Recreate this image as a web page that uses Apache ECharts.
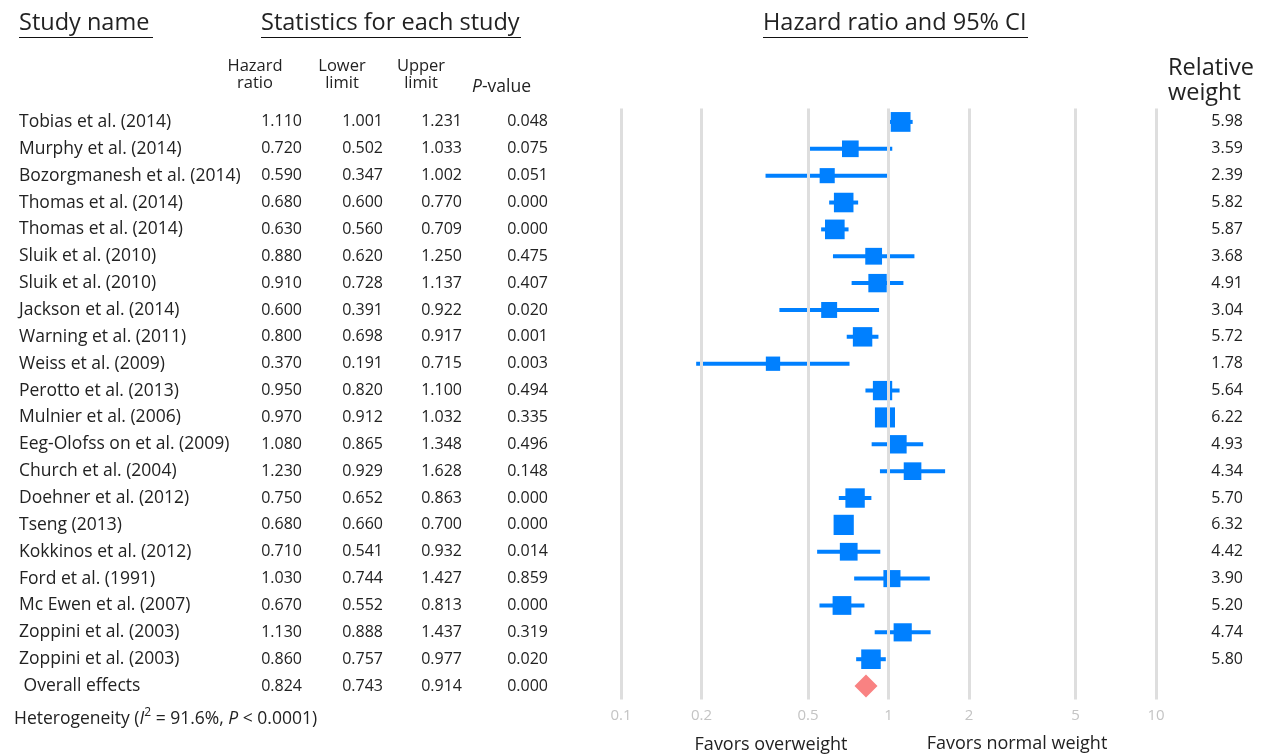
<!DOCTYPE html>
<html><head><meta charset="utf-8">
<script src="https://cdn.jsdelivr.net/npm/echarts@6/dist/echarts.min.js"></script>
<style>html,body{margin:0;padding:0;background:#fff}#c{width:1264px;height:754px}</style>
</head><body><div id="c"></div>
<script>
// Study table
const studies = [
  'Tobias et al. (2014)', 'Murphy et al. (2014)', 'Bozorgmanesh et al. (2014)',
  'Thomas et al. (2014)', 'Thomas et al. (2014)', 'Sluik et al. (2010)',
  'Sluik et al. (2010)', 'Jackson et al. (2014)', 'Warning et al. (2011)',
  'Weiss et al. (2009)', 'Perotto et al. (2013)', 'Mulnier et al. (2006)',
  'Eeg-Olofss on et al. (2009)', 'Church et al. (2004)', 'Doehner et al. (2012)',
  'Tseng (2013)', 'Kokkinos et al. (2012)', 'Ford et al. (1991)',
  'Mc Ewen et al. (2007)', 'Zoppini et al. (2003)', 'Zoppini et al. (2003)'
];
const hazardRatio = [1.110, 0.720, 0.590, 0.680, 0.630, 0.880, 0.910, 0.600, 0.800, 0.370, 0.950,
  0.970, 1.080, 1.230, 0.750, 0.680, 0.710, 1.030, 0.670, 1.130, 0.860];
const lowerLimit = [1.001, 0.502, 0.347, 0.600, 0.560, 0.620, 0.728, 0.391, 0.698, 0.191, 0.820,
  0.912, 0.865, 0.929, 0.652, 0.660, 0.541, 0.744, 0.552, 0.888, 0.757];
const upperLimit = [1.231, 1.033, 1.002, 0.770, 0.709, 1.250, 1.137, 0.922, 0.917, 0.715, 1.100,
  1.032, 1.348, 1.628, 0.863, 0.700, 0.932, 1.427, 0.813, 1.437, 0.977];
const pValue = [0.048, 0.075, 0.051, 0.000, 0.000, 0.475, 0.407, 0.020, 0.001, 0.003, 0.494,
  0.335, 0.496, 0.148, 0.000, 0.000, 0.014, 0.859, 0.000, 0.319, 0.020];
const relativeWeight = [5.98, 3.59, 2.39, 5.82, 5.87, 3.68, 4.91, 3.04, 5.72, 1.78, 5.64,
  6.22, 4.93, 4.34, 5.70, 6.32, 4.42, 3.90, 5.20, 4.74, 5.80];

// Pooled estimate
const overallName = ' Overall effects';
const overallHR = 0.824;
const overallLower = 0.743;
const overallUpper = 0.914;
const overallP = 0.000;

const xTicks = [0.1, 0.2, 0.5, 1, 2, 5, 10];

const nRows = studies.length + 1;
const rows = Array.from({length: nRows}, (_, i) => String(i));
const names = studies.concat([overallName]);
const hrCol = hazardRatio.concat([overallHR]);
const loCol = lowerLimit.concat([overallLower]);
const upCol = upperLimit.concat([overallUpper]);
const pCol = pValue.concat([overallP]);

const FONT = '"Open Sans", "Noto Sans", sans-serif';
const TXT = '#222';

function tableAxis(position, margin, align, size, fmt) {
  return {
    type: 'category', data: rows, inverse: true, gridIndex: 0, position: position,
    axisLine: {show: false}, axisTick: {show: false}, splitLine: {show: false},
    axisLabel: {
      margin: margin, align: align, color: TXT, fontFamily: FONT, fontSize: size,
      interval: 0, formatter: (v) => fmt(Number(v))
    }
  };
}

const chart = echarts.init(document.getElementById('c'), null, {renderer: 'canvas'});

function header(x, y, text, size, align) {
  return {type: 'text', x: x, y: y, style: {text: text, fill: TXT, font: size + 'px ' + FONT, align: align || 'left', verticalAlign: 'middle'}};
}
function underline(x1, x2, y) {
  return {type: 'line', shape: {x1: x1, y1: y, x2: x2, y2: y}, style: {stroke: '#111', lineWidth: 1}};
}
function twoLine(x, y, text, size, lh, align) {
  return {type: 'text', x: x, y: y, style: {text: text, fill: TXT, font: size + 'px ' + FONT, lineHeight: lh, align: align, verticalAlign: 'top'}};
}

chart.setOption({
  animation: false,
  backgroundColor: '#fff',
  grid: {left: 621, top: 108.5, width: 535, height: 591, containLabel: false},
  xAxis: {
    type: 'log', logBase: 10, min: 0.1, max: 10,
    axisLine: {show: false}, axisTick: {show: false}, splitLine: {show: false},
    axisLabel: {
      customValues: xTicks, margin: 9, color: '#c4c4c4', fontFamily: FONT, fontSize: 15,
      formatter: (v) => String(Math.round(v * 10) / 10)
    }
  },
  yAxis: [
    tableAxis('left', 602, 'left', 17.5, (i) => names[i]),
    tableAxis('left', 319, 'right', 16, (i) => hrCol[i].toFixed(3)),
    tableAxis('left', 238, 'right', 16, (i) => loCol[i].toFixed(3)),
    tableAxis('left', 159, 'right', 16, (i) => upCol[i].toFixed(3)),
    tableAxis('left', 73, 'right', 16, (i) => pCol[i].toFixed(3)),
    tableAxis('right', 87, 'right', 16, (i) => i < relativeWeight.length ? relativeWeight[i].toFixed(2) : '')
  ],
  series: [
    {
      // reference lines on the log scale
      type: 'scatter', data: [], silent: true,
      markLine: {
        silent: true, symbol: 'none', label: {show: false},
        lineStyle: {color: '#dedede', width: 3, type: 'solid'},
        data: xTicks.map((t) => ({xAxis: t}))
      }
    },
    {
      // 95% confidence intervals
      type: 'custom', silent: true,
      data: studies.map((s, i) => [lowerLimit[i], upperLimit[i], i]),
      encode: {x: [0, 1], y: 2},
      renderItem: function (params, api) {
        const a = api.coord([api.value(0), api.value(2)]);
        const b = api.coord([api.value(1), api.value(2)]);
        return {type: 'line', shape: {x1: a[0], y1: a[1], x2: b[0], y2: b[1]},
          style: {stroke: '#0080ff', lineWidth: 4}};
      },
      z: 3
    },
    {
      // point estimates, sized by relative weight
      type: 'scatter', silent: true,
      data: studies.map((s, i) => [hazardRatio[i], i, relativeWeight[i]]),
      symbol: 'rect',
      symbolSize: (v) => 12 + 1.3 * v[2],
      itemStyle: {color: '#0080ff', opacity: 1},
      z: 4
    },
    {
      // pooled effect
      type: 'scatter', silent: true,
      data: [[overallHR, nRows - 1]],
      symbol: 'diamond', symbolSize: 23,
      itemStyle: {color: '#f98282', opacity: 1},
      z: 4
    }
  ],
  graphic: [
    header(19, 23, 'Study name', 23.5), underline(19, 153, 37.5),
    header(261, 23, 'Statistics for each study', 23.5), underline(261, 521, 37.5),
    header(763, 23, 'Hazard ratio and 95% CI', 23.5), underline(763, 1028, 37.5),
    twoLine(255, 58, 'Hazard\nratio', 16.5, 17, 'center'),
    twoLine(342, 58, 'Lower\nlimit', 16.5, 17, 'center'),
    twoLine(421, 58, 'Upper\nlimit', 16.5, 17, 'center'),
    {type: 'text', x: 472, y: 87, style: {
      text: '{i|P}-value', fill: TXT, font: '17.5px ' + FONT, verticalAlign: 'middle',
      rich: {i: {fontStyle: 'italic', fontSize: 17.5, fontFamily: FONT, fill: TXT}}
    }},
    twoLine(1168, 56, 'Relative\nweight', 23.5, 25, 'left'),
    {type: 'text', x: 14, y: 719, style: {
      text: 'Heterogeneity ({i|I}{s|2} = 91.6%, {i|P} < 0.0001)',
      fill: TXT, font: '17.5px ' + FONT, verticalAlign: 'middle',
      rich: {
        i: {fontStyle: 'italic', fontSize: 17.5, fontFamily: FONT, fill: TXT},
        s: {fontSize: 12, fontFamily: FONT, fill: TXT, verticalAlign: 'top', lineHeight: 24}
      }
    }},
    header(771, 745, 'Favors overweight', 18, 'center'),
    header(1017, 744, 'Favors normal weight', 18, 'center')
  ]
});
</script>
</body></html>
